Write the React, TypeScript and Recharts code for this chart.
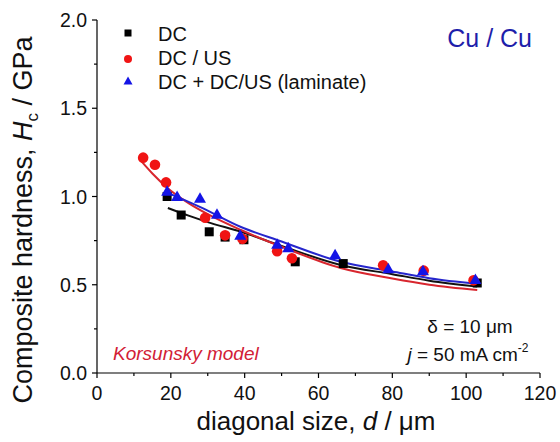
import { ComposedChart, Line, Scatter, XAxis, YAxis } from "recharts";

// measured points (d in µm, Hc in GPa)
const dcPoints = [
  { d: 19, h: 1.0 },
  { d: 22.8, h: 0.895 },
  { d: 30.4, h: 0.8 },
  { d: 34.7, h: 0.77 },
  { d: 39.8, h: 0.755 },
  { d: 53.7, h: 0.63 },
  { d: 66.7, h: 0.62 },
  { d: 103, h: 0.51 },
];

const dcUsPoints = [
  { d: 12.5, h: 1.22 },
  { d: 15.7, h: 1.18 },
  { d: 18.7, h: 1.08 },
  { d: 29.3, h: 0.88 },
  { d: 34.7, h: 0.78 },
  { d: 39.4, h: 0.76 },
  { d: 48.8, h: 0.69 },
  { d: 52.8, h: 0.65 },
  { d: 77.5, h: 0.61 },
  { d: 88.5, h: 0.58 },
  { d: 102, h: 0.525 },
];

const laminatePoints = [
  { d: 19, h: 1.03 },
  { d: 21.7, h: 1.0 },
  { d: 27.9, h: 0.99 },
  { d: 32.5, h: 0.9 },
  { d: 38.8, h: 0.78 },
  { d: 48.8, h: 0.73 },
  { d: 51.8, h: 0.71 },
  { d: 64.5, h: 0.67 },
  { d: 78.9, h: 0.59 },
  { d: 88.3, h: 0.58 },
  { d: 102.5, h: 0.53 },
];

// Korsunsky model fits
const dcFit = [
  { d: 19.2, h: 0.935 },
  { d: 25, h: 0.89 },
  { d: 30, h: 0.855 },
  { d: 39, h: 0.8 },
  { d: 50, h: 0.72 },
  { d: 66, h: 0.612 },
  { d: 80, h: 0.56 },
  { d: 90, h: 0.523 },
  { d: 103, h: 0.49 },
];

const dcUsFit = [
  { d: 11.7, h: 1.207 },
  { d: 15, h: 1.13 },
  { d: 19, h: 1.05 },
  { d: 25, h: 0.96 },
  { d: 30, h: 0.9 },
  { d: 39, h: 0.81 },
  { d: 50, h: 0.715 },
  { d: 66, h: 0.595 },
  { d: 80, h: 0.535 },
  { d: 90, h: 0.5 },
  { d: 103, h: 0.47 },
];

const laminateFit = [
  { d: 18.7, h: 1.025 },
  { d: 28, h: 0.94 },
  { d: 39, h: 0.827 },
  { d: 50, h: 0.745 },
  { d: 66, h: 0.63 },
  { d: 80, h: 0.575 },
  { d: 90, h: 0.537 },
  { d: 103, h: 0.505 },
];

const xTicks = [0, 10, 20, 30, 40, 50, 60, 70, 80, 90, 100, 110, 120];
const yTicks = [0, 0.25, 0.5, 0.75, 1.0, 1.25, 1.5, 1.75, 2.0];

const FONT = "'Liberation Sans', Arial, sans-serif";

function XTick(props: any) {
  const { x, y, payload } = props;
  const major = payload.value % 20 === 0;
  return (
    <g>
      <line x1={x} x2={x} y1={y} y2={y + (major ? 5 : 3)} stroke="#000" strokeWidth={1.2} />
      {major && (
        <text x={x} y={y + 27} textAnchor="middle" fontSize={19.5} fontFamily={FONT} fill="#111">
          {payload.value}
        </text>
      )}
    </g>
  );
}

function YTick(props: any) {
  const { x, y, payload } = props;
  const v = payload.value;
  const major = Math.abs(v * 2 - Math.round(v * 2)) < 1e-6;
  return (
    <g>
      <line x1={x - (major ? 5 : 3)} x2={x} y1={y} y2={y} stroke="#000" strokeWidth={1.2} />
      {major && (
        <text x={x - 10} y={y + 7} textAnchor="end" fontSize={19.5} fontFamily={FONT} fill="#111">
          {v.toFixed(1)}
        </text>
      )}
    </g>
  );
}

const square = (p: any) => <rect x={p.cx - 4.5} y={p.cy - 4.5} width={9} height={9} fill="#000" />;
const circle = (p: any) => <circle cx={p.cx} cy={p.cy} r={5.3} fill="#f01414" />;
const triangle = (p: any) => (
  <polygon
    points={`${p.cx},${p.cy - 6} ${p.cx - 6},${p.cy + 4.5} ${p.cx + 6},${p.cy + 4.5}`}
    fill="#1414e6"
  />
);

export default function App() {
  return (
    <div style={{ position: "absolute", left: 0, top: 0, width: 560, height: 442, background: "#fff" }}>
      <ComposedChart width={560} height={442} margin={{ top: 20, right: 20, bottom: 0, left: 0 }}>
        <XAxis
          dataKey="d"
          type="number"
          domain={[0, 120]}
          ticks={xTicks}
          interval={0}
          height={69}
          tickSize={0}
          tickMargin={0}
          tickLine={false}
          tick={<XTick />}
          axisLine={{ stroke: "#000", strokeWidth: 1.2 }}
        />
        <XAxis
          xAxisId="top"
          orientation="top"
          type="number"
          domain={[0, 120]}
          height={0}
          tick={false}
          tickLine={false}
          axisLine={{ stroke: "#000", strokeWidth: 1.2 }}
        />
        <YAxis
          dataKey="h"
          type="number"
          domain={[0, 2]}
          ticks={yTicks}
          interval={0}
          width={97}
          tickSize={0}
          tickMargin={0}
          tickLine={false}
          tick={<YTick />}
          axisLine={{ stroke: "#000", strokeWidth: 1.2 }}
        />
        <YAxis
          yAxisId="right"
          orientation="right"
          type="number"
          domain={[0, 2]}
          width={0}
          tick={false}
          tickLine={false}
          axisLine={{ stroke: "#000", strokeWidth: 1.2 }}
        />
        <Scatter data={dcPoints} dataKey="h" shape={square} isAnimationActive={false} />
        <Scatter data={dcUsPoints} dataKey="h" shape={circle} isAnimationActive={false} />
        <Scatter data={laminatePoints} dataKey="h" shape={triangle} isAnimationActive={false} />
        <Line data={dcFit} dataKey="h" type="monotone" stroke="#111" strokeWidth={2} dot={false} isAnimationActive={false} />
        <Line data={dcUsFit} dataKey="h" type="monotone" stroke="#d8262e" strokeWidth={2} dot={false} isAnimationActive={false} />
        <Line data={laminateFit} dataKey="h" type="monotone" stroke="#2626cc" strokeWidth={2} dot={false} isAnimationActive={false} />
      </ComposedChart>
      <svg
        width={560}
        height={442}
        style={{ position: "absolute", left: 0, top: 0, pointerEvents: "none" }}
        fontFamily={FONT}
      >
        {/* legend */}
        <rect x={124.5} y={29.5} width={7} height={7} fill="#000" />
        <circle cx={128} cy={59} r={4} fill="#f01414" />
        <polygon points="128,76.5 123.5,84.5 132.5,84.5" fill="#1414e6" />
        <text x={158} y={41} fontSize={20} fill="#111">DC</text>
        <text x={158} y={65} fontSize={20} fill="#111">DC / US</text>
        <text x={158} y={89} fontSize={20} fill="#111">DC + DC/US (laminate)</text>
        <text x={532} y={47} textAnchor="end" fontSize={25} fill="#1e1eaa">Cu / Cu</text>
        <text x={470} y={333} textAnchor="middle" fontSize={19} fill="#111">δ = 10 μm</text>
        <text x={468} y={361} textAnchor="middle" fontSize={19} fill="#111">
          <tspan fontStyle="italic">j</tspan> = 50 mA cm
          <tspan fontSize={12} dy={-9}>-2</tspan>
        </text>
        <text x={113} y={360} fontSize={19} fontStyle="italic" fill="#d22035">Korsunsky model</text>
        <text x={316} y={430} textAnchor="middle" fontSize={26} fill="#111">
          diagonal size, <tspan fontStyle="italic">d</tspan> / μm
        </text>
        <text x={32} y={220} transform="rotate(-90 32 220)" textAnchor="middle" fontSize={27} fill="#111">
          Composite hardness, <tspan fontStyle="italic">H</tspan>
          <tspan fontSize={17} dy={6}>c</tspan>
          <tspan dy={-6}> / GPa</tspan>
        </text>
      </svg>
    </div>
  );
}
